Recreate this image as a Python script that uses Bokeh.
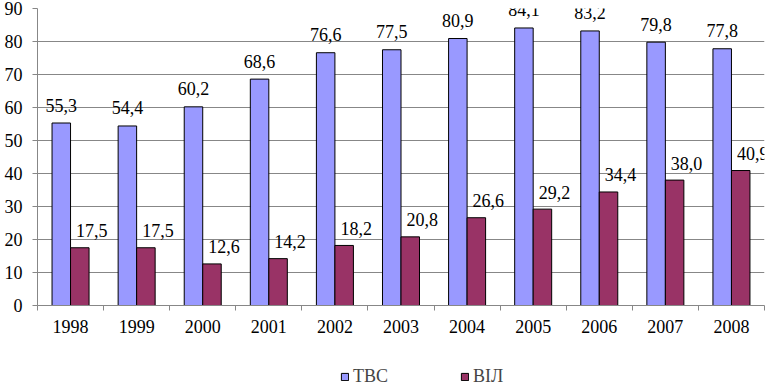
from bokeh.plotting import figure
from bokeh.layouts import column
from bokeh.models import ColumnDataSource, LabelSet, FixedTicker, Legend, LegendItem, Range1d
from bokeh.core.properties import value
from bokeh.embed import file_html
from bokeh.resources import INLINE

years = [1998, 1999, 2000, 2001, 2002, 2003, 2004, 2005, 2006, 2007, 2008]
tbc = [55.3, 54.4, 60.2, 68.6, 76.6, 77.5, 80.9, 84.1, 83.2, 79.8, 77.8]
hiv = [17.5, 17.5, 12.6, 14.2, 18.2, 20.8, 26.6, 29.2, 34.4, 38.0, 40.9]
series_names = ["ТВС", "ВІЛ"]
y_ticks = [0, 10, 20, 30, 40, 50, 60, 70, 80, 90]

FONT = "Liberation Serif"
BLUE = "#9999FF"
RED = "#993366"
GRID = "#878787"
W = 0.28

def fmt(v):
    return f"{v:.1f}".replace(".", ",")

src_b = ColumnDataSource(dict(x=[y - W / 2 for y in years], top=tbc, lab=[fmt(v) for v in tbc]))
src_r = ColumnDataSource(dict(x=[y + W / 2 for y in years], top=hiv, lab=[fmt(v) for v in hiv]))

p = figure(width=769, height=345, output_backend="svg", toolbar_location=None,
           x_range=Range1d(years[0] - 0.5, years[-1] + 0.5), y_range=Range1d(0, 90),
           min_border_left=37, min_border_right=5, min_border_top=8, min_border_bottom=40)
p.outline_line_color = None
p.background_fill_color = "white"
p.border_fill_color = "white"

rb = p.vbar(x="x", top="top", width=W, source=src_b, fill_color=BLUE, line_color="black", line_width=1)
rr = p.vbar(x="x", top="top", width=W, source=src_r, fill_color=RED, line_color="black", line_width=1)

p.add_layout(LabelSet(x="x", y="top", text="lab", source=src_b, text_align="center",
                      text_baseline="middle", y_offset=18, text_font=value(FONT),
                      text_font_size=value("18px"), text_color=value("black")))
p.add_layout(LabelSet(x="x", y="top", text="lab", source=src_r, text_align="center",
                      text_baseline="middle", x_offset=12, y_offset=17, text_font=value(FONT),
                      text_font_size=value("18px"), text_color=value("black")))

# x axis
p.xaxis.ticker = FixedTicker(ticks=years, minor_ticks=[y - 0.5 for y in years] + [years[-1] + 0.5])
p.xaxis.major_label_overrides = {y: str(y) for y in years}
p.xaxis.major_tick_line_color = None
p.xaxis.minor_tick_line_color = GRID
p.xaxis.minor_tick_out = 5
p.xaxis.minor_tick_in = 0
p.xaxis.axis_line_color = GRID
p.xaxis.major_label_text_font = FONT
p.xaxis.major_label_text_font_size = "18px"
p.xaxis.major_label_text_color = "black"
p.xaxis.major_label_standoff = 8
p.xgrid.grid_line_color = None

# y axis
p.yaxis.ticker = FixedTicker(ticks=y_ticks)
p.yaxis.minor_tick_line_color = None
p.yaxis.major_tick_line_color = GRID
p.yaxis.major_tick_out = 5
p.yaxis.major_tick_in = 0
p.yaxis.axis_line_color = GRID
p.yaxis.major_label_text_font = FONT
p.yaxis.major_label_text_font_size = "18px"
p.yaxis.major_label_text_color = "black"
p.yaxis.major_label_standoff = 10
p.ygrid.grid_line_color = GRID
p.ygrid.grid_line_width = 1

# legend strip
q = figure(width=769, height=42, output_backend="svg", toolbar_location=None,
           x_range=Range1d(0, 769), y_range=Range1d(0, 42),
           x_axis_type=None, y_axis_type=None, min_border=0)
q.outline_line_color = None
q.xgrid.grid_line_color = None
q.ygrid.grid_line_color = None
lb = q.vbar(x=[0], bottom=[0], top=[0], width=0, fill_color=BLUE, line_color="black")
lr = q.vbar(x=[0], bottom=[0], top=[0], width=0, fill_color=RED, line_color="black")
legend = Legend(items=[LegendItem(label=series_names[0], renderers=[lb]),
                       LegendItem(label=series_names[1], renderers=[lr])],
                location=(303, 0), orientation="horizontal",
                label_text_font=FONT, label_text_font_size="18px",
                glyph_width=9, glyph_height=9, label_height=9, label_standoff=4, spacing=72,
                padding=0, margin=0, border_line_color=None, background_fill_alpha=0)
q.add_layout(legend, "center")

open("out.html", "w").write(file_html(column(p, q), INLINE))
